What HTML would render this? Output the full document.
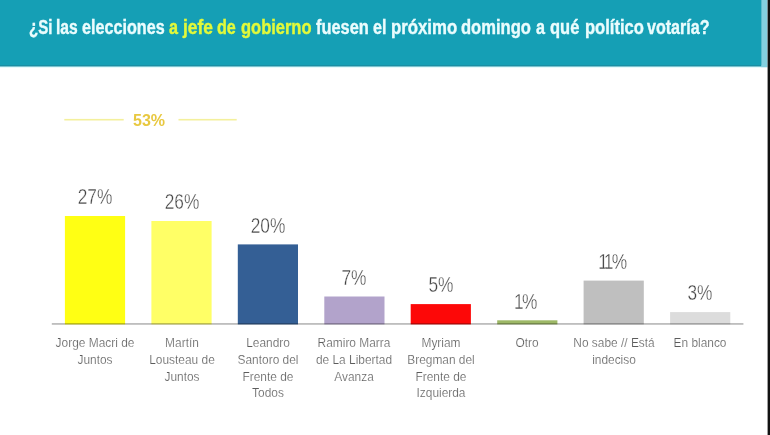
<!DOCTYPE html>
<html lang="es"><head><meta charset="utf-8"><title>Encuesta</title>
<style>
html,body{margin:0;padding:0;}
body{width:770px;height:435px;position:relative;overflow:hidden;background:#fff;font-family:"Liberation Sans",sans-serif;}
svg{position:absolute;left:0;top:0;}
.title{position:absolute;left:0;top:17px;width:760px;height:22px;font-size:20px;font-weight:bold;color:#eafcfd;line-height:20px;-webkit-text-stroke:0.4px currentColor;}
.title span{position:absolute;top:0;white-space:nowrap;transform-origin:0 0;}
.title .y{color:#e2f93a;}
.sum{position:absolute;left:133px;top:112px;font-size:16px;font-weight:bold;color:#e8c840;line-height:18px;}
.val{position:absolute;width:100px;text-align:center;font-size:22.5px;color:#444;line-height:22px;transform:scaleX(0.77);white-space:nowrap;-webkit-text-stroke:0.4px #fff;}
.val i{font-style:normal;margin:0 -2.2px 0 -3.4px;}
.lab{position:absolute;width:110px;text-align:center;font-size:12.5px;color:#5c5c5c;line-height:16.75px;-webkit-text-stroke:0.2px #fff;top:335px;white-space:nowrap;transform:scaleX(0.953);}
</style></head><body>
<svg width="770" height="435" viewBox="0 0 770 435">
<rect x="761" y="0" width="6.5" height="67.3" fill="#84d0e0"/>
<rect x="0" y="66" width="761.2" height="1.7" fill="#dcf8fa"/>
<rect x="0" y="0" width="761.2" height="66.5" fill="#1b8ea3"/>
<rect x="0" y="0" width="761.2" height="65" fill="#159fb5"/>
<rect x="767.6" y="0" width="2.4" height="435" fill="#121212"/>
<rect x="64.3" y="118.9" width="59.4" height="1.6" fill="#f4f09c"/>
<rect x="178.5" y="118.9" width="58.2" height="1.6" fill="#f4f09c"/>
<rect x="64.9" y="216.0" width="60.2" height="108.4" fill="#ffff14"/>
<rect x="151.4" y="221.0" width="60.2" height="103.4" fill="#ffff66"/>
<rect x="237.8" y="244.4" width="60.2" height="80.0" fill="#345f95"/>
<rect x="324.3" y="296.5" width="60.2" height="27.9" fill="#b2a3cb"/>
<rect x="410.7" y="304.1" width="60.2" height="20.3" fill="#fd0808"/>
<rect x="497.2" y="320.3" width="60.2" height="4.1" fill="#9db866"/>
<rect x="583.6" y="280.6" width="60.2" height="43.8" fill="#bfbfbf"/>
<rect x="670.1" y="312.1" width="60.2" height="12.3" fill="#dcdcdc"/>
<rect x="51.8" y="323.4" width="691.6" height="1.1" fill="#939393" style="mix-blend-mode:multiply"/>
</svg>
<div class="title">
<span style="left:28.9px;transform:scaleX(0.751)">¿Si</span>
<span style="left:56.1px;transform:scaleX(0.782)">las</span>
<span style="left:82.4px;transform:scaleX(0.809)">elecciones</span>
<span class="y" style="left:168.5px;transform:scaleX(0.807)">a</span>
<span class="y" style="left:182.7px;transform:scaleX(0.868)">jefe</span>
<span class="y" style="left:217.0px;transform:scaleX(0.807)">de</span>
<span class="y" style="left:240.8px;transform:scaleX(0.824)">gobierno</span>
<span style="left:315.5px;transform:scaleX(0.818)">fuesen</span>
<span style="left:372.9px;transform:scaleX(0.807)">el</span>
<span style="left:390.8px;transform:scaleX(0.839)">próximo</span>
<span style="left:461.3px;transform:scaleX(0.828)">domingo</span>
<span style="left:535.6px;transform:scaleX(0.807)">a</span>
<span style="left:549.7px;transform:scaleX(0.824)">qué</span>
<span style="left:584.5px;transform:scaleX(0.828)">político</span>
<span style="left:647.2px;transform:scaleX(0.804)">votaría?</span>
</div>
<div class="sum">53%</div>
<div class="val" style="left:45.0px;top:186.3px">27%</div>
<div class="val" style="left:131.5px;top:191.3px">26%</div>
<div class="val" style="left:217.9px;top:214.7px">20%</div>
<div class="val" style="left:304.4px;top:266.8px">7%</div>
<div class="val" style="left:390.8px;top:274.4px">5%</div>
<div class="val" style="left:477.3px;top:290.6px"><i>1</i>%</div>
<div class="val" style="left:563.7px;top:250.9px"><i>1</i><i>1</i>%</div>
<div class="val" style="left:650.2px;top:282.4px">3%</div>
<div class="lab" style="left:40.0px">Jorge Macri de<br>Juntos</div>
<div class="lab" style="left:126.5px">Martín<br>Lousteau de<br>Juntos</div>
<div class="lab" style="left:212.9px">Leandro<br>Santoro del<br>Frente de<br>Todos</div>
<div class="lab" style="left:299.4px">Ramiro Marra<br>de La Libertad<br>Avanza</div>
<div class="lab" style="left:385.8px">Myriam<br>Bregman del<br>Frente de<br>Izquierda</div>
<div class="lab" style="left:472.3px">Otro</div>
<div class="lab" style="left:558.7px">No sabe // Está<br>indeciso</div>
<div class="lab" style="left:645.2px">En blanco</div>
</body></html>
